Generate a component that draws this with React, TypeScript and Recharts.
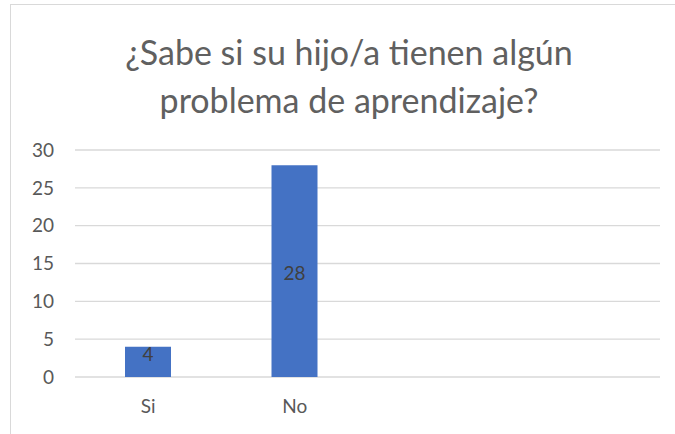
import { BarChart, Bar, XAxis, YAxis, CartesianGrid, LabelList } from 'recharts';

const categories = ['Si', 'No'];
const counts = [4, 28];
const yTicks = [0, 5, 10, 15, 20, 25, 30];
const titleLines = ['¿Sabe si su hijo/a tienen algún', 'problema de aprendizaje?'];

const data = categories.map((name, i) => ({ name, value: counts[i] }));

const FONT = 'Lato, "Open Sans", sans-serif';
const TEXT = '#595959';

const BarValue = (props: any) => {
  const { x, y, width, height, value } = props;
  // short bars keep the label near the top, tall ones center it
  const cy = height > 40 ? y + height / 2 + 1 : y + 7;
  return (
    <text
      x={x + width / 2}
      y={cy}
      textAnchor="middle"
      dominantBaseline="central"
      fill="#404040"
      fontSize={19}
      fontFamily={FONT}
    >
      {value}
    </text>
  );
};

const App = () => {
  return (
    <div
      style={{
        position: 'fixed',
        left: 0,
        top: 0,
        width: 675,
        height: 434,
        overflow: 'hidden',
        background: '#fff',
      }}
    >
      <div
        style={{
          position: 'absolute',
          left: 10,
          top: 4,
          width: 700,
          height: 500,
          border: '1px solid #d9d9d9',
        }}
      />
      <div
        style={{
          position: 'absolute',
          left: 0,
          top: 28,
          width: 698,
          textAlign: 'center',
          fontFamily: FONT,
          fontSize: 34,
          lineHeight: '48px',
          color: '#606060',
          fontWeight: 400,
        }}
      >
        {titleLines.map((t) => (
          <div key={t}>{t}</div>
        ))}
      </div>
      <div style={{ position: 'absolute', left: 0, top: 0 }}>
        <BarChart
          width={675}
          height={434}
          data={data}
          margin={{ top: 150, right: 15, left: 0, bottom: 27 }}
        >
          <CartesianGrid vertical={false} stroke="#d9d9d9" strokeWidth={1.3} />
          <XAxis
            dataKey="name"
            axisLine={false}
            tickLine={false}
            tickMargin={17}
            padding={{ left: 0, right: 292 }}
            tick={{ fill: TEXT, fontSize: 19, fontFamily: FONT }}
          />
          <YAxis
            width={75}
            domain={[0, 30]}
            ticks={yTicks}
            axisLine={false}
            tickLine={false}
            tickMargin={15}
            tick={{ fill: TEXT, fontSize: 19, fontFamily: FONT }}
          />
          <Bar dataKey="value" fill="#4472c4" barSize={46} isAnimationActive={false}>
            <LabelList dataKey="value" content={BarValue} />
          </Bar>
        </BarChart>
      </div>
    </div>
  );
};

export default App;
